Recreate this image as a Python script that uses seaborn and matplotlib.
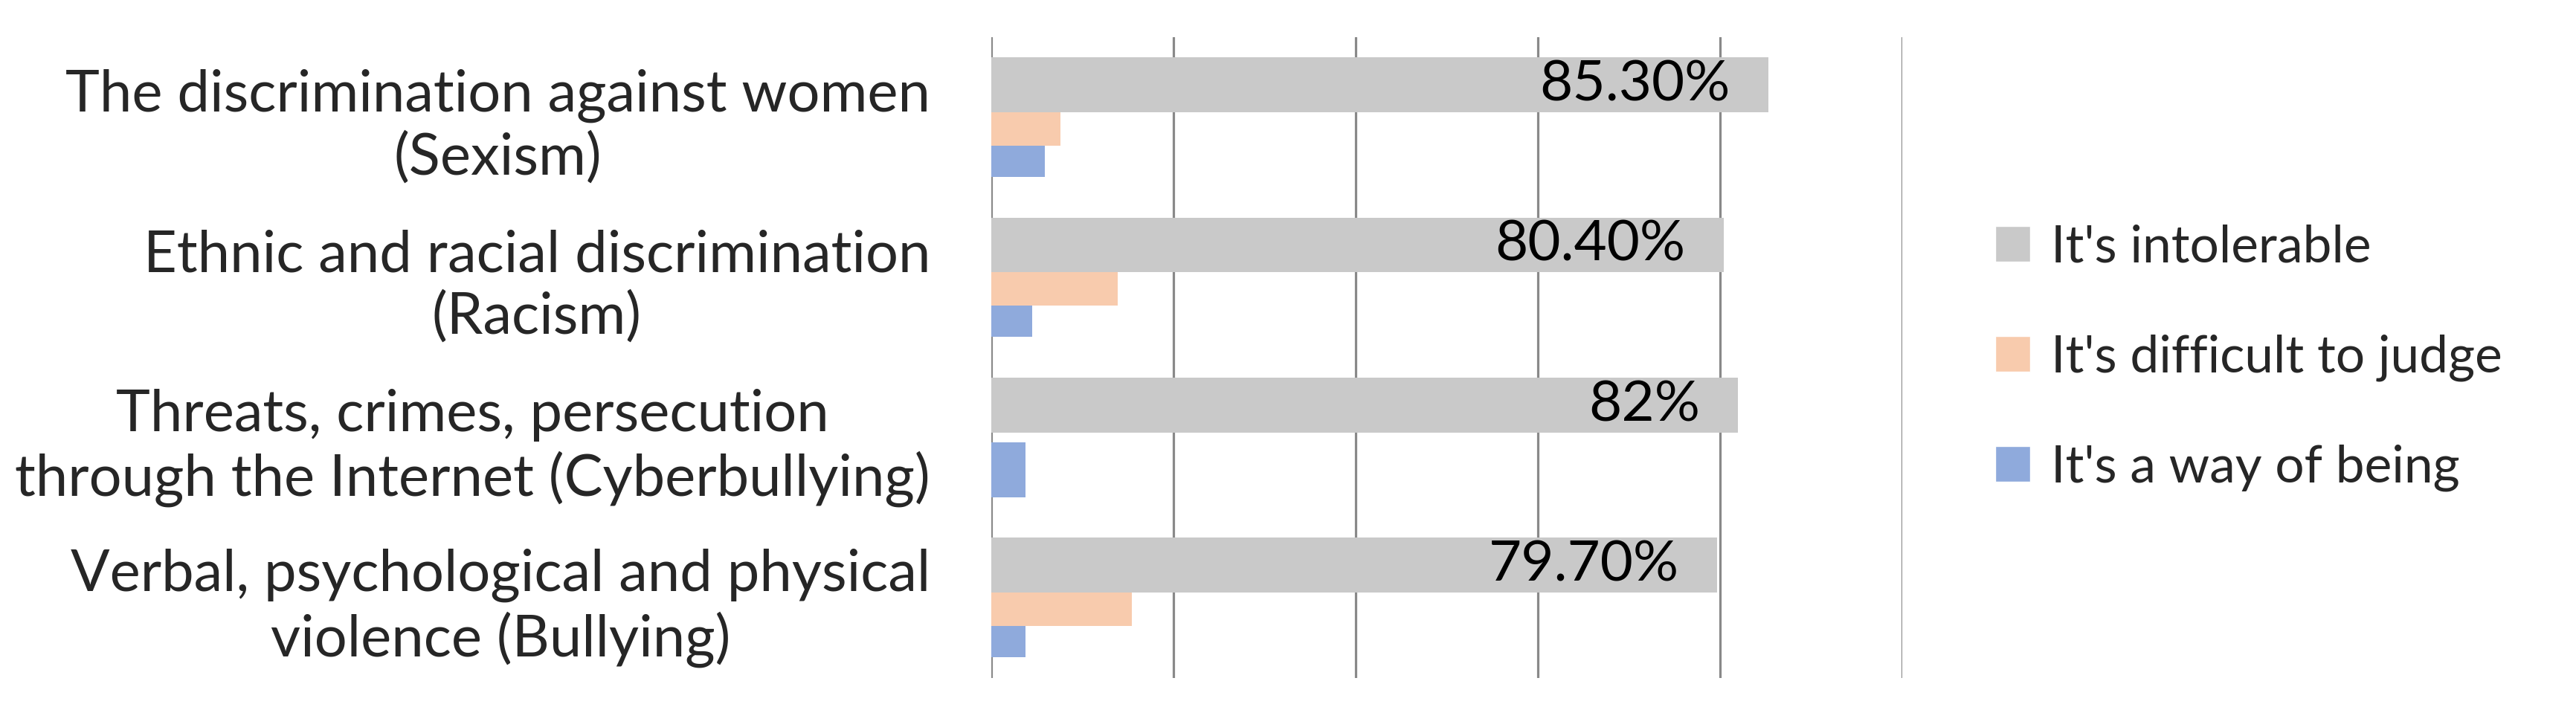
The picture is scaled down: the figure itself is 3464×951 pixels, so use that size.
"""
Attitudes towards discrimination and bullying: grouped horizontal bars.
"""
import matplotlib
matplotlib.use("Agg")
import matplotlib.pyplot as plt
import pandas as pd
import seaborn as sns

# Chart data
categories = [
    "The discrimination against women\n(Sexism)",
    "Ethnic and racial discrimination\n(Racism)",
    "Threats, crimes, persecution\nthrough the Internet (Cyberbullying)",
    "Verbal, psychological and physical\nviolence (Bullying)",
]
series = ["It's intolerable", "It's difficult to judge", "It's a way of being"]
intolerable = [0.853, 0.804, 0.82, 0.797]
difficult = [0.076, 0.139, 0.0, 0.154]
way_of_being = [0.059, 0.045, 0.038, 0.038]
value_labels = ["85.30%", "80.40%", "82%", "79.70%"]

colors = ["#C9C9C9", "#F8CBAD", "#8FAADC"]
grid_color = "#898989"
label_size = 56
value_size = 55
legend_size = 50

df = pd.DataFrame({
    "category": categories * len(series),
    "response": [s for s in series for _ in categories],
    "share": intolerable + difficult + way_of_being,
})

sns.set_style("white")
plt.rcParams["font.family"] = ["Lato", "DejaVu Sans"]

fig = plt.figure(figsize=(34.64, 9.51), dpi=100)
ax = fig.add_axes([0.3848, 0.0415, 0.3536, 0.906])

sns.barplot(data=df, y="category", x="share", hue="response", palette=colors,
            orient="h", ax=ax, width=0.75, saturation=1)

# Excel-like slot layout within each category band (fraction from band top)
slots = [(0.127, 0.468), (0.468, 0.676), (0.676, 0.873)]
for s_idx, container in enumerate(ax.containers):
    for c_idx, patch in enumerate(container.patches):
        start, end = slots[s_idx]
        # the missing middle bar leaves room for a thicker last bar
        if s_idx == 2 and difficult[c_idx] == 0:
            start, end = 0.532, 0.876
        patch.set_y(c_idx - 0.5 + start)
        patch.set_height(end - start)
        patch.set_edgecolor("none")

# value labels on the first series, inside the bar end
for patch, text in zip(ax.containers[0].patches, value_labels):
    ax.annotate(text, xy=(patch.get_width(), patch.get_y() + patch.get_height() / 2),
                xytext=(-37, 0), textcoords="offset points",
                ha="right", va="center", fontsize=value_size, color="black")

ax.set_xlim(0, 1)
ax.set_ylim(3.5, -0.5)
ax.set_xticks([0, 0.2, 0.4, 0.6, 0.8, 1.0])
ax.set_xticklabels([])
ax.set_xlabel("")
ax.set_ylabel("")
ax.set_axisbelow(True)
ax.grid(axis="x", color=grid_color, linewidth=2.3)
ax.grid(axis="y", visible=False)
for spine in ax.spines.values():
    spine.set_visible(False)
ax.tick_params(axis="both", length=0)
ax.tick_params(axis="y", pad=59, labelsize=label_size)
for label in ax.get_yticklabels():
    label.set_multialignment("center")

handles, labels = ax.get_legend_handles_labels()
ax.get_legend().remove()
fig.legend(handles, labels, loc="center left", bbox_to_anchor=(0.7745, 0.4942),
           frameon=False, fontsize=legend_size, borderpad=0, borderaxespad=0,
           handlelength=0.68, handleheight=0.68, handletextpad=0.4,
           labelspacing=1.22)

fig.savefig("out.png", dpi=100)
